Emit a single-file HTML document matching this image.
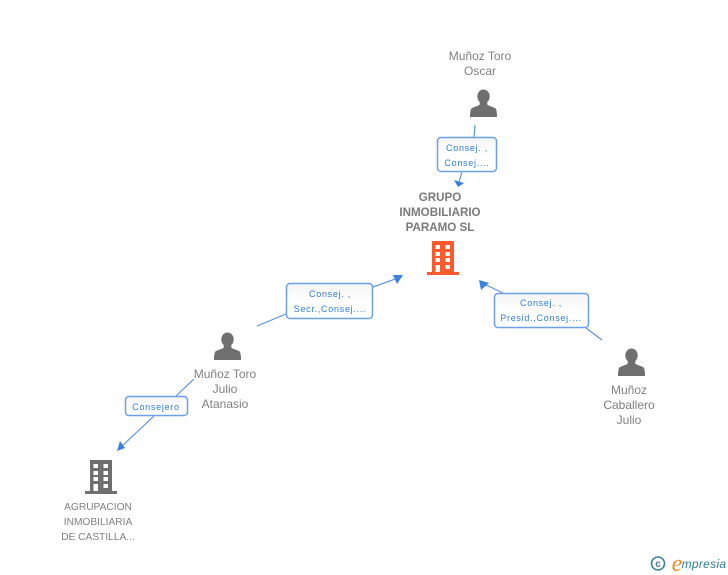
<!DOCTYPE html>
<html><head><meta charset="utf-8"><style>
html,body{margin:0;padding:0;background:#fff}
svg{display:block}
text{font-family:"Liberation Sans",sans-serif;text-anchor:middle}
.n{font-size:12px;fill:#808080}
.b{font-size:11.6px;fill:#7a7a7a;font-weight:bold}
.s{font-size:10.2px;fill:#808080}
.l{font-size:9px;fill:#2f7de0;letter-spacing:.72px}
.c{stroke:#5b93e2;stroke-width:1.2;fill:none}
.a{fill:#3b7fe0}
.box{fill:url(#g);stroke:#6ea0e8;stroke-width:1.5}
</style></head><body>
<svg width="728" height="575" viewBox="0 0 728 575" xmlns="http://www.w3.org/2000/svg">
<defs>
<linearGradient id="g" x1="0" y1="0" x2="0" y2="1"><stop offset="0" stop-color="#f4f4f4"/><stop offset=".5" stop-color="#fff"/><stop offset="1" stop-color="#fff"/></linearGradient>
<g id="p"><ellipse cx="0" cy="6.5" rx="6.2" ry="7"/><path d="M-3.5 11 L3.5 11 L4 15 L11.5 18 Q13.5 19 13.5 27 L-13.5 27 Q-13.5 19 -11.5 18 L-4 15Z"/></g>
<g id="h">
<path fill-rule="evenodd" d="M5 0H27V31H5Z M8.5 4V8H13V4Z M18.5 4V8H23V4Z M8.5 11V15H13V11Z M18.5 11V15H23V11Z M8.5 17V21H13V17Z M18.5 17V21H23V17Z M18.5 24V28H23V24Z M8.5 24V31H13V24Z"/>
<rect x="0" y="31" width="32" height="3"/></g>
</defs>

<path class="c" d="M475 125L474 137M462 172L459 182M257 326L286 314M373 287L398 278M602 340L586 328M503 293L484 284M194 379L176 396M154 416L121 447"/>
<path class="a" d="M458 187L454 180L464 183Z"/>
<path class="a" d="M403 275L393 275L397 284Z"/>
<path class="a" d="M479 280L489 283L481 290Z"/>
<path class="a" d="M117 451L120 441L125 448Z"/>

<rect class="box" x="437.5" y="137.5" width="59" height="34" rx="3.5"/>
<rect class="box" x="286.5" y="283.5" width="86" height="35" rx="3.5"/>
<rect class="box" x="494.5" y="293.5" width="94" height="34" rx="3.5"/>
<rect class="box" x="125.5" y="396.5" width="62" height="19" rx="3.5"/>

<text class="l" x="467" y="151">Consej. ,</text>
<text class="l" x="467" y="166">Consej....</text>
<text class="l" x="330" y="297">Consej. ,</text>
<text class="l" x="330" y="312">Secr.,Consej....</text>
<text class="l" x="541" y="306">Consej. ,</text>
<text class="l" x="541" y="321">Presid.,Consej....</text>
<text class="l" x="156" y="410">Consejero</text>

<use href="#p" x="483.5" y="90" fill="#6f6f6f"/>
<use href="#p" x="227.5" y="333" fill="#6f6f6f"/>
<use href="#p" x="631.5" y="349" fill="#6f6f6f"/>
<use href="#h" x="427" y="241" fill="#fb5a2c"/>
<use href="#h" x="85" y="460" fill="#6f6f6f"/>

<text class="n" x="480" y="60">Muñoz Toro</text>
<text class="n" x="480" y="75">Oscar</text>
<text class="b" x="440" y="201">GRUPO</text>
<text class="b" x="440" y="216">INMOBILIARIO</text>
<text class="b" x="440" y="231">PARAMO SL</text>
<text class="n" x="225" y="378">Muñoz Toro</text>
<text class="n" x="225" y="393">Julio</text>
<text class="n" x="225" y="408">Atanasio</text>
<text class="n" x="629" y="394">Muñoz</text>
<text class="n" x="629" y="409">Caballero</text>
<text class="n" x="629" y="424">Julio</text>
<text class="s" x="98" y="510">AGRUPACION</text>
<text class="s" x="98" y="525">INMOBILIARIA</text>
<text class="s" x="98" y="540">DE CASTILLA...</text>

<circle cx="658" cy="563.5" r="6.5" fill="none" stroke="#3f7f95" stroke-width="1.6"/>
<text x="658" y="567" style="font-size:10px;font-weight:bold;fill:#3f7f95">c</text>
<text x="677" y="571" style="font-family:'Liberation Serif',serif;font-style:italic;font-size:24px;fill:#f08a1d">e</text>
<text x="704" y="568" style="font-style:italic;font-size:12px;letter-spacing:.3px;fill:#2f7f95">mpresia</text>
</svg>
</body></html>
